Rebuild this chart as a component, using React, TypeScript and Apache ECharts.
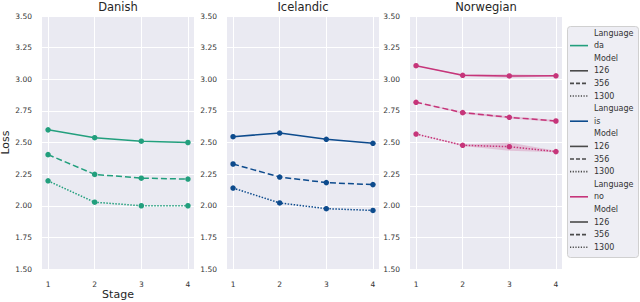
import React, { useEffect, useRef } from "react";
import * as echarts from "echarts";

const stages = [1, 2, 3, 4];
const panelTitles = ["Danish", "Icelandic", "Norwegian"];
const langCodes = ["da", "is", "no"];
const langColors = ["#229f7d", "#0d4b8d", "#c6357a"];
const modelNames = ["126", "356", "1300"];
const modelDash = ["solid", "dashed", "dotted"];

// Loss per stage
const daLoss126 = [2.6, 2.538, 2.51, 2.5];
const daLoss356 = [2.404, 2.248, 2.218, 2.211];
const daLoss1300 = [2.197, 2.028, 2.0, 2.0];
const isLoss126 = [2.546, 2.575, 2.525, 2.494];
const isLoss356 = [2.33, 2.227, 2.183, 2.167];
const isLoss1300 = [2.14, 2.022, 1.977, 1.963];
const noLoss126 = [3.107, 3.031, 3.026, 3.027];
const noLoss356 = [2.818, 2.736, 2.699, 2.67];
const noLoss1300 = [2.567, 2.478, 2.467, 2.428];

// Norwegian confidence bands
const noLow126 = [3.107, 3.024, 3.012, 3.022];
const noHigh126 = [3.107, 3.038, 3.04, 3.032];
const noLow356 = [2.818, 2.728, 2.69, 2.662];
const noHigh356 = [2.818, 2.744, 2.708, 2.678];
const noLow1300 = [2.567, 2.472, 2.435, 2.422];
const noHigh1300 = [2.567, 2.484, 2.5, 2.434];

const lossTable = [
  [daLoss126, daLoss356, daLoss1300],
  [isLoss126, isLoss356, isLoss1300],
  [noLoss126, noLoss356, noLoss1300],
];
const bandTable = [
  [noLow126, noHigh126],
  [noLow356, noHigh356],
  [noLow1300, noHigh1300],
];

export default function App() {
  const ref = useRef<HTMLDivElement>(null);
  useEffect(() => {
    if (!ref.current) return;
    const chart = echarts.init(ref.current, null, { renderer: "svg" });
    const font = "DejaVu Sans";
    const gridLefts = [42, 227, 410];
    const gridW = 152;
    const gridTop = 16;
    const gridH = 253;

    const grids = gridLefts.map((l) => ({
      left: l,
      top: gridTop,
      width: gridW,
      height: gridH,
      show: true,
      backgroundColor: "#eaeaf2",
      borderWidth: 0,
      containLabel: false,
      outerBoundsMode: "none",
    }));

    const xAxes = gridLefts.map((_, i) => ({
      type: "value",
      gridIndex: i,
      min: 0.87,
      max: 4.13,
      axisLine: { show: false },
      axisTick: { show: false, customValues: stages },
      axisLabel: {
        customValues: stages,
        color: "#333333",
        fontFamily: font,
        fontSize: 7.5,
        margin: 11,
      },
      splitLine: { show: true, lineStyle: { color: "#ffffff", width: 1 } },
    }));

    const yAxes = gridLefts.map((_, i) => ({
      type: "value",
      gridIndex: i,
      min: 1.5,
      max: 3.5,
      interval: 0.25,
      axisLine: { show: false },
      axisTick: { show: false },
      axisLabel: {
        color: "#333333",
        fontFamily: font,
        fontSize: 7.5,
        margin: 10,
        formatter: (v: number) => v.toFixed(2),
      },
      splitLine: { show: true, lineStyle: { color: "#ffffff", width: 1 } },
      name: i === 0 ? "Loss" : "",
      nameLocation: "middle",
      nameGap: 29,
      nameTextStyle: { fontFamily: font, fontSize: 11, color: "#262626" },
    }));

    const series: any[] = [];
    // confidence bands (Norwegian) drawn through the axes' coordinate system
    bandTable.forEach(([low, high]) => {
      series.push({
        type: "custom",
        xAxisIndex: 2,
        yAxisIndex: 2,
        silent: true,
        z: 1,
        data: stages.map((s, k) => [s, low[k], high[k]]),
        renderItem: (params: any, api: any) => {
          if (params.dataIndex !== 0) return null;
          const top = stages.map((s, k) => api.coord([s, high[k]]));
          const bottom = stages.map((s, k) => api.coord([s, low[k]])).reverse();
          return {
            type: "polygon",
            shape: { points: top.concat(bottom) },
            style: { fill: langColors[2], opacity: 0.22 },
          };
        },
      });
    });

    lossTable.forEach((models, p) => {
      models.forEach((vals, m) => {
        series.push({
          type: "line",
          name: langCodes[p] + " " + modelNames[m],
          xAxisIndex: p,
          yAxisIndex: p,
          z: 3,
          symbol: "circle",
          symbolSize: 5.5,
          itemStyle: { color: langColors[p] },
          lineStyle: { color: langColors[p], width: 1.5, type: modelDash[m] },
          data: stages.map((s, k) => [s, vals[k]]),
        });
      });
    });

    // Titles, x-axis name and legend drawn as graphics
    const graphics: any[] = [];
    gridLefts.forEach((l, i) => {
      graphics.push({
        type: "text",
        x: l + gridW / 2,
        y: 7,
        style: {
          text: panelTitles[i],
          fontFamily: font,
          fontSize: 11.5,
          fill: "#262626",
          textAlign: "center",
          textVerticalAlign: "middle",
        },
      });
    });
    graphics.push({
      type: "text",
      x: gridLefts[0] + gridW / 2,
      y: 294,
      style: {
        text: "Stage",
        fontFamily: font,
        fontSize: 11,
        fill: "#262626",
        textAlign: "center",
        textVerticalAlign: "middle",
      },
    });
    graphics.push({
      type: "rect",
      shape: { x: 567.5, y: 26.5, width: 71, height: 231, r: 3 },
      style: { fill: "#eeeef4", stroke: "#d0d0d0", lineWidth: 1 },
    });
    let row = 0;
    const rowY = (r: number) => 33 + r * 12.6;
    langCodes.forEach((code, li) => {
      const rows: { label: string; color?: string; dash?: string }[] = [
        { label: "Language" },
        { label: code, color: langColors[li], dash: "solid" },
        { label: "Model" },
        ...modelNames.map((mn, mi) => ({ label: mn, color: "#4a4a4a", dash: modelDash[mi] })),
      ];
      rows.forEach((r) => {
        const y = rowY(row);
        if (r.color) {
          const dashArr =
            r.dash === "dashed" ? [4, 2] : r.dash === "dotted" ? [1.2, 1.5] : null;
          graphics.push({
            type: "line",
            shape: { x1: 570, y1: y, x2: 588, y2: y },
            style: { stroke: r.color, lineWidth: 1.6, lineDash: dashArr },
          });
        }
        graphics.push({
          type: "text",
          x: 594,
          y,
          style: {
            text: r.label,
            fontFamily: font,
            fontSize: 8,
            fill: "#333333",
            textVerticalAlign: "middle",
          },
        });
        row++;
      });
    });

    chart.setOption({
      animation: false,
      backgroundColor: "#ffffff",
      grid: grids,
      xAxis: xAxes,
      yAxis: yAxes,
      series,
      graphic: graphics,
    });
    return () => chart.dispose();
  }, []);
  return (
    <div
      ref={ref}
      style={{ position: "fixed", left: 0, top: 0, width: 640, height: 302 }}
    />
  );
}
